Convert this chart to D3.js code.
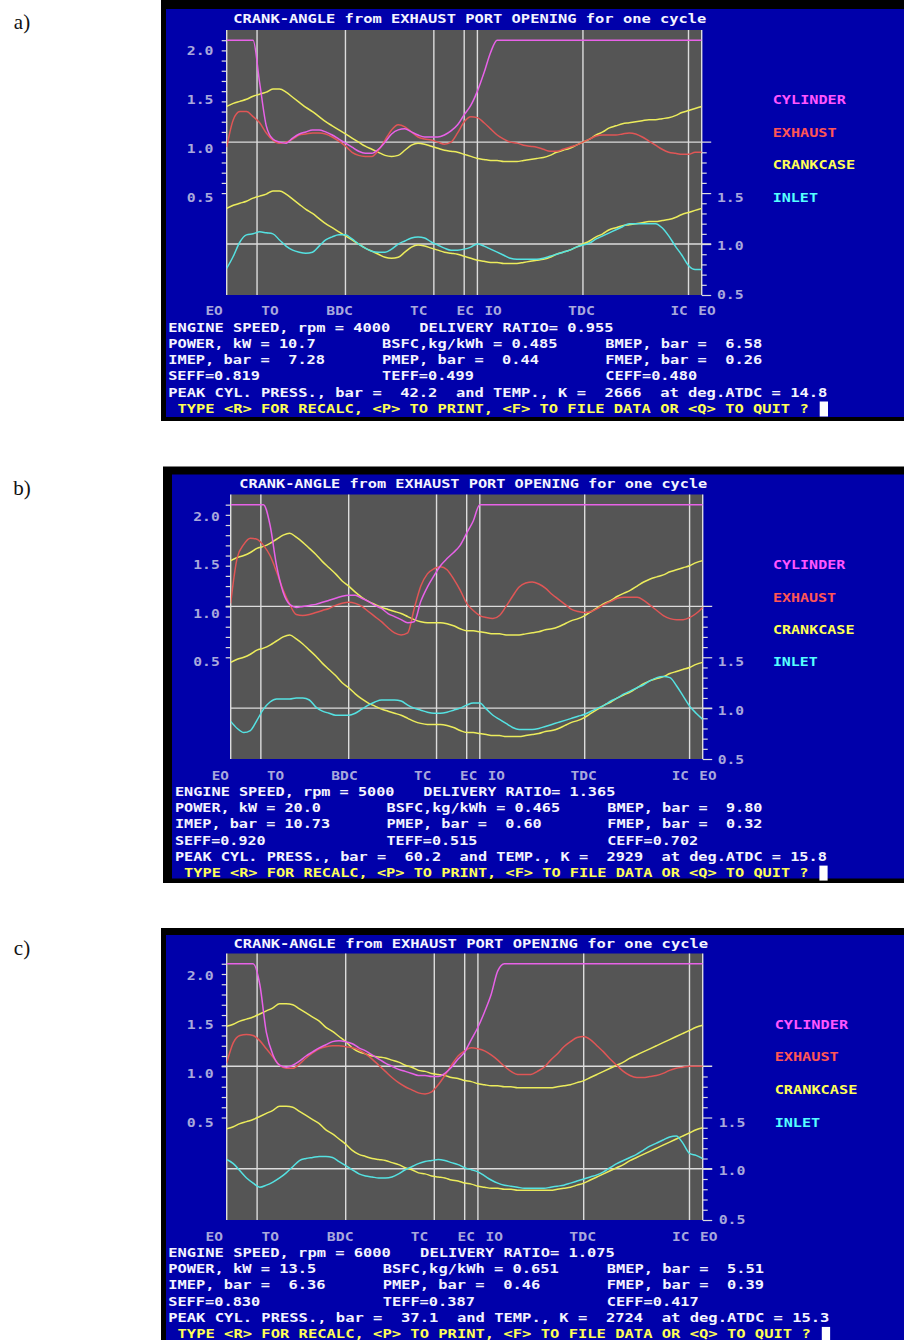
<!DOCTYPE html>
<html>
<head>
<meta charset="utf-8">
<style>
  html, body { margin: 0; padding: 0; background: #ffffff; }
  svg { display: block; }
  text.dos { font-family: "DejaVu Sans Mono", monospace; font-weight: bold; font-size: 13px; white-space: pre; }
</style>
</head>
<body>
<svg id="chart" width="904" height="1340"></svg>
<script src="https://cdn.jsdelivr.net/npm/d3@7/dist/d3.min.js"></script>
<script>
// Crank angle (deg) measured from exhaust port opening, sampled every 5 deg
const crankAngle = [
  0, 5, 10, 15, 20, 25, 30, 35, 40, 45,
  50, 55, 60, 65, 70, 75, 80, 85, 90, 95,
  100, 105, 110, 115, 120, 125, 130, 135, 140, 145,
  150, 155, 160, 165, 170, 175, 180, 185, 190, 195,
  200, 205, 210, 215, 220, 225, 230, 235, 240, 245,
  250, 255, 260, 265, 270, 275, 280, 285, 290, 295,
  300, 305, 310, 315, 320, 325, 330, 335, 340, 345,
  350, 355, 360
];

// Port / piston events along the cycle
const eventNames  = ["EO", "TO", "BDC", "TC", "EC", "IO", "TDC", "IC", "EO"];
const eventAngles = [0, 23, 90, 157, 180, 190, 270, 350, 360];

const seriesNames = ["CYLINDER", "EXHAUST", "CRANKCASE", "INLET"];
const runLabels = ["a)", "b)", "c)"];

// Pressure ratios, run a) 4000 rpm
const cylinderA = [
  2.0, 2.0, 2.0, 2.0, 2.0, 1.58, 1.16, 1.03, 1.0, 0.99,
  1.04, 1.08, 1.1, 1.12, 1.12, 1.1, 1.07, 1.03, 0.99, 0.95,
  0.91, 0.89, 0.89, 0.93, 1.0, 1.08, 1.12, 1.13, 1.1, 1.07,
  1.05, 1.05, 1.05, 1.07, 1.11, 1.17, 1.27, 1.36, 1.5, 1.68,
  1.88, 2.0, 2.0, 2.0, 2.0, 2.0, 2.0, 2.0, 2.0, 2.0,
  2.0, 2.0, 2.0, 2.0, 2.0, 2.0, 2.0, 2.0, 2.0, 2.0,
  2.0, 2.0, 2.0, 2.0, 2.0, 2.0, 2.0, 2.0, 2.0, 2.0,
  2.0, 2.0, 2.0
];
const exhaustA = [
  0.95, 1.22, 1.3, 1.3, 1.25, 1.19, 1.09, 1.02, 0.99, 1.0,
  1.03, 1.07, 1.08, 1.09, 1.09, 1.08, 1.05, 1.01, 0.96, 0.9,
  0.87, 0.86, 0.86, 0.92, 1.02, 1.12, 1.17, 1.15, 1.1, 1.05,
  1.03, 1.02, 1.0, 0.98, 1.0, 1.09, 1.2, 1.25, 1.24, 1.19,
  1.13, 1.07, 1.03, 1.0, 0.99, 0.97, 0.96, 0.95, 0.93, 0.91,
  0.91, 0.93, 0.95, 0.97, 1.0, 1.03, 1.06, 1.07, 1.07, 1.07,
  1.08, 1.09, 1.08, 1.05, 1.01, 0.97, 0.93, 0.9, 0.89, 0.88,
  0.88, 0.9, 0.9
];
const crankcaseA = [
  1.35, 1.38, 1.4, 1.42, 1.45, 1.47, 1.49, 1.52, 1.52, 1.49,
  1.44, 1.39, 1.34, 1.3, 1.25, 1.2, 1.16, 1.12, 1.08, 1.04,
  1.0, 0.96, 0.93, 0.9, 0.87, 0.86, 0.87, 0.92, 0.97, 0.99,
  0.98, 0.96, 0.94, 0.92, 0.91, 0.9, 0.88, 0.86, 0.84, 0.83,
  0.82, 0.82, 0.81, 0.81, 0.81, 0.82, 0.83, 0.84, 0.85, 0.87,
  0.9, 0.92, 0.94, 0.97, 1.0, 1.03, 1.07, 1.1, 1.14, 1.16,
  1.18, 1.19, 1.2, 1.21, 1.22, 1.22, 1.23, 1.24, 1.26, 1.29,
  1.31, 1.33, 1.35
];
const inletA = [
  0.76, 0.88, 1.02, 1.09, 1.1, 1.12, 1.11, 1.1, 1.04, 0.98,
  0.94, 0.92, 0.91, 0.92, 0.98, 1.04, 1.07, 1.09, 1.09, 1.05,
  1.0, 0.96, 0.93, 0.92, 0.92, 0.95, 1.0, 1.03, 1.06, 1.07,
  1.06, 1.02, 0.99, 0.96, 0.94, 0.94, 0.95, 0.97, 1.0, 0.98,
  0.95, 0.92, 0.89, 0.86, 0.85, 0.85, 0.85, 0.85, 0.86, 0.88,
  0.9, 0.92, 0.94, 0.97, 0.99, 1.01, 1.05, 1.08, 1.11, 1.14,
  1.17, 1.2, 1.2, 1.2, 1.2, 1.2, 1.16, 1.08, 0.98, 0.89,
  0.79, 0.75, 0.75
];

// Pressure ratios, run b) 5000 rpm
const cylinderB = [
  2.0, 2.0, 2.0, 2.0, 2.0, 2.0, 1.8, 1.4, 1.14, 1.02,
  0.99, 1.0, 1.01, 1.02, 1.04, 1.06, 1.08, 1.1, 1.11, 1.11,
  1.08, 1.05, 1.01, 0.98, 0.93, 0.9, 0.87, 0.84, 0.85, 1.05,
  1.19, 1.3, 1.4, 1.47, 1.53, 1.6, 1.72, 1.84, 2.0, 2.0,
  2.0, 2.0, 2.0, 2.0, 2.0, 2.0, 2.0, 2.0, 2.0, 2.0,
  2.0, 2.0, 2.0, 2.0, 2.0, 2.0, 2.0, 2.0, 2.0, 2.0,
  2.0, 2.0, 2.0, 2.0, 2.0, 2.0, 2.0, 2.0, 2.0, 2.0,
  2.0, 2.0, 2.0
];
const exhaustB = [
  1.03, 1.48, 1.61, 1.67, 1.66, 1.6, 1.5, 1.34, 1.16, 1.02,
  0.92, 0.91, 0.92, 0.94, 0.96, 0.98, 1.01, 1.03, 1.04, 1.03,
  1.0, 0.95, 0.9, 0.85, 0.79, 0.74, 0.72, 0.74, 0.98, 1.2,
  1.32, 1.37, 1.39, 1.36, 1.27, 1.16, 1.03, 0.96, 0.91, 0.89,
  0.88, 0.91, 1.0, 1.1, 1.19, 1.23, 1.24, 1.22, 1.18, 1.12,
  1.07, 1.02, 0.97, 0.95, 0.94, 0.95, 0.98, 1.02, 1.05, 1.08,
  1.09, 1.09, 1.09, 1.06, 1.01, 0.96, 0.91, 0.88, 0.87, 0.87,
  0.89, 0.93, 0.99
];
const crankcaseB = [
  1.45, 1.48, 1.5, 1.53, 1.57, 1.59, 1.62, 1.66, 1.7, 1.72,
  1.68, 1.63, 1.57, 1.51, 1.44, 1.38, 1.32, 1.25, 1.2, 1.14,
  1.09, 1.05, 1.02, 0.99, 0.97, 0.95, 0.93, 0.9, 0.87, 0.85,
  0.84, 0.84, 0.84, 0.83, 0.81, 0.78, 0.76, 0.76, 0.75, 0.74,
  0.73, 0.73, 0.72, 0.72, 0.72, 0.73, 0.74, 0.75, 0.77, 0.78,
  0.8, 0.83, 0.86, 0.88, 0.91, 0.95, 0.99, 1.03, 1.06, 1.1,
  1.13, 1.16, 1.2, 1.24, 1.27, 1.29, 1.31, 1.34, 1.36, 1.38,
  1.4, 1.43, 1.45
];
const inletB = [
  0.87, 0.8, 0.76, 0.78, 0.88, 0.99, 1.06, 1.09, 1.09, 1.09,
  1.1, 1.1, 1.08, 1.01, 0.97, 0.95, 0.93, 0.93, 0.93, 0.95,
  0.99, 1.03, 1.06, 1.08, 1.08, 1.08, 1.07, 1.03, 1.0, 0.98,
  0.96, 0.95, 0.95, 0.96, 0.98, 1.0, 1.03, 1.05, 1.05, 0.99,
  0.93, 0.89, 0.85, 0.81, 0.79, 0.79, 0.79, 0.8, 0.82, 0.84,
  0.86, 0.88, 0.9, 0.92, 0.94, 0.97, 1.0, 1.03, 1.07, 1.1,
  1.14, 1.17, 1.2, 1.23, 1.27, 1.3, 1.31, 1.3, 1.22, 1.12,
  1.02, 0.95, 0.89
];

// Pressure ratios, run c) 6000 rpm
const cylinderC = [
  2.0, 2.0, 2.0, 2.0, 2.0, 1.8, 1.33, 1.11, 1.01, 0.99,
  1.01, 1.05, 1.1, 1.14, 1.18, 1.21, 1.24, 1.25, 1.24, 1.22,
  1.18, 1.15, 1.11, 1.07, 1.03, 1.0, 0.97, 0.95, 0.93, 0.91,
  0.91, 0.9, 0.9, 0.93, 0.99, 1.07, 1.14, 1.26, 1.38, 1.53,
  1.7, 1.93, 2.0, 2.0, 2.0, 2.0, 2.0, 2.0, 2.0, 2.0,
  2.0, 2.0, 2.0, 2.0, 2.0, 2.0, 2.0, 2.0, 2.0, 2.0,
  2.0, 2.0, 2.0, 2.0, 2.0, 2.0, 2.0, 2.0, 2.0, 2.0,
  2.0, 2.0, 2.0
];
const exhaustC = [
  1.03, 1.23, 1.3, 1.31, 1.3, 1.25, 1.17, 1.09, 1.01, 0.98,
  0.98, 1.02, 1.08, 1.13, 1.17, 1.19, 1.2, 1.2, 1.19, 1.18,
  1.16, 1.12, 1.07, 1.01, 0.95, 0.89, 0.84, 0.8, 0.77, 0.74,
  0.73, 0.75, 0.82, 0.91, 1.01, 1.1, 1.15, 1.18, 1.17, 1.15,
  1.11, 1.06, 1.0, 0.95, 0.92, 0.92, 0.92, 0.95, 0.99, 1.06,
  1.12, 1.19, 1.24, 1.28, 1.29, 1.26, 1.2, 1.14, 1.07, 1.01,
  0.95, 0.91, 0.89, 0.89, 0.9, 0.91, 0.93, 0.96, 0.98, 0.99,
  1.0, 1.0, 1.0
];
const crankcaseC = [
  1.39, 1.41, 1.44, 1.46, 1.48, 1.51, 1.54, 1.57, 1.61, 1.61,
  1.6, 1.56, 1.52, 1.48, 1.44, 1.38, 1.34, 1.29, 1.24, 1.18,
  1.14, 1.12, 1.1, 1.09, 1.08, 1.06, 1.04, 1.01, 0.99, 0.96,
  0.95, 0.93, 0.92, 0.91, 0.89, 0.88, 0.86, 0.85, 0.83, 0.82,
  0.81, 0.81, 0.8, 0.8, 0.79, 0.79, 0.79, 0.79, 0.79, 0.79,
  0.8, 0.81, 0.82, 0.84, 0.86, 0.89, 0.92, 0.95, 0.98, 1.01,
  1.04, 1.08, 1.11, 1.14, 1.17, 1.2, 1.23, 1.26, 1.29, 1.32,
  1.35, 1.38, 1.4
];
const inletC = [
  1.09, 1.05, 0.98, 0.91, 0.86, 0.82, 0.84, 0.87, 0.91, 0.96,
  1.02, 1.08, 1.1, 1.11, 1.12, 1.12, 1.11, 1.07, 1.03, 0.99,
  0.95, 0.93, 0.92, 0.91, 0.91, 0.92, 0.95, 0.99, 1.02, 1.05,
  1.07, 1.08, 1.09, 1.08, 1.06, 1.04, 1.01, 0.99, 0.97, 0.93,
  0.89, 0.86, 0.84, 0.83, 0.82, 0.81, 0.81, 0.81, 0.81, 0.82,
  0.83, 0.84, 0.86, 0.88, 0.9, 0.92, 0.94, 0.97, 1.01, 1.05,
  1.08, 1.11, 1.14, 1.18, 1.22, 1.25, 1.28, 1.31, 1.32, 1.25,
  1.15, 1.13, 1.1
];

// Performance summary per run
const engineSpeed   = ["4000", "5000", "6000"];
const deliveryRatio = ["0.955", "1.365", "1.075"];
const powerKW       = ["10.7", "20.0", "13.5"];
const bsfc          = ["0.485", "0.465", "0.651"];
const bmep          = ["6.58", "9.80", "5.51"];
const imep          = ["7.28", "10.73", "6.36"];
const pmep          = ["0.44", "0.60", "0.46"];
const fmep          = ["0.26", "0.32", "0.39"];
const seff          = ["0.819", "0.920", "0.830"];
const teff          = ["0.499", "0.515", "0.387"];
const ceff          = ["0.480", "0.702", "0.417"];
const peakPressure  = ["42.2", "60.2", "37.1"];
const peakTemp      = ["2666", "2929", "2724"];
const peakAngle     = ["14.8", "15.8", "15.3"];

// Axis ticks
const leftTicks  = [0.5, 0.6, 0.7, 0.8, 0.9, 1.0, 1.1, 1.2, 1.3, 1.4, 1.5, 1.6, 1.7, 1.8, 1.9, 2.0];
const rightTicks = [0.5, 0.6, 0.7, 0.8, 0.9, 1.0, 1.1, 1.2, 1.3, 1.4, 1.5, 1.6, 1.7, 1.8, 1.9];
const leftTickLabels  = [0.5, 1.0, 1.5, 2.0];
const rightTickLabels = [0.5, 1.0, 1.5];

const runSeries = [
  [cylinderA, exhaustA, crankcaseA, inletA],
  [cylinderB, exhaustB, crankcaseB, inletB],
  [cylinderC, exhaustC, crankcaseC, inletC]
];

// ---- screen layout (text grid + plot box for each screenshot) ----
const layouts = [
  { tag: 22,  frame: [161, 0, 904, 421],   screen: [166, 9, 904, 417],
    col0: 168.2, cw: 9.30, row0: 18.0,  rh: 16.25, plot: { L: 226.7, R: 701.7, T: 30.0,  B: 295.0 } },
  { tag: 488, frame: [163, 466.5, 904, 883], screen: [172, 474.5, 904, 878.5],
    col0: 174.9, cw: 9.20, row0: 483.3, rh: 16.20, plot: { L: 230.7, R: 702.7, T: 494.5, B: 759.0 } },
  { tag: 948, frame: [161, 928, 904, 1340], screen: [166, 935, 904, 1340],
    col0: 168.2, cw: 9.33, row0: 942.7, rh: 16.28, plot: { L: 226.7, R: 702.7, T: 953.5, B: 1220.0 } }
];
const eventLabelCol = [4, 10, 17, 26, 31, 34, 43, 54, 57];
const legendRows = [5, 7, 9, 11];

const C = {
  blue: "#0000aa", gray: "#555555", frame: "#000000",
  grid: "#dcdcdc", axisText: "#a8a8dc", text: "#f4f4ff", prompt: "#ffff55",
  legend: ["#ff55ff", "#ff5555", "#ffff55", "#55ffff"],
  line:   ["#e862e8", "#e05656", "#ecec5c", "#55e2e2"]
};

const svg = d3.select("#chart");

function drawRun(i) {
  const lay = layouts[i];
  const P = lay.plot;
  const g = svg.append("g");

  // run tag a) b) c)
  svg.append("text")
    .attr("x", 22).attr("y", lay.tag + 7)
    .attr("text-anchor", "middle")
    .attr("font-family", "Liberation Serif, serif")
    .attr("font-size", 21)
    .attr("fill", "#111")
    .text(runLabels[i]);

  // screen frame
  g.append("rect").attr("x", lay.frame[0]).attr("y", lay.frame[1])
    .attr("width", lay.frame[2] - lay.frame[0]).attr("height", lay.frame[3] - lay.frame[1])
    .attr("fill", C.frame);
  g.append("rect").attr("x", lay.screen[0]).attr("y", lay.screen[1])
    .attr("width", lay.screen[2] - lay.screen[0]).attr("height", lay.screen[3] - lay.screen[1])
    .attr("fill", C.blue);

  // text helper on the character grid
  const put = (col, row, str, color) => {
    const t = g.append("text").attr("class", "dos")
      .attr("xml:space", "preserve")
      .attr("x", lay.col0 + col * lay.cw)
      .attr("y", lay.row0 + row * lay.rh + 4.8)
      .attr("fill", color)
      .text(str);
    t.attr("textLength", str.length * lay.cw - 1.2).attr("lengthAdjust", "spacingAndGlyphs");
    return t;
  };
  const rowOf = y => Math.ceil((y - lay.row0) / lay.rh - 0.2);

  // scales
  const x = d3.scaleLinear().domain([0, 360]).range([P.L, P.R]);
  const yL = d3.scaleLinear().domain([-0.5, 2.1]).range([P.B, P.T]);
  const yR = d3.scaleLinear().domain([0.5, 3.1]).range([P.B, P.T]);

  // plot background
  g.append("rect").attr("x", P.L).attr("y", P.T)
    .attr("width", P.R - P.L).attr("height", P.B - P.T).attr("fill", C.gray);

  // event lines
  g.append("g").selectAll("line").data(eventAngles).join("line")
    .attr("x1", d => x(d)).attr("x2", d => x(d))
    .attr("y1", P.T).attr("y2", P.B)
    .attr("stroke", C.grid).attr("stroke-width", 1.4);

  // left axis ticks
  const axL = g.append("g").attr("transform", `translate(${P.L},0)`)
    .call(d3.axisLeft(yL).tickValues(leftTicks).tickSize(5).tickFormat(""));
  axL.select(".domain").remove();
  axL.selectAll("line").attr("stroke", C.grid).attr("stroke-width", 1.2);

  // right axis ticks (majors longer)
  const axR = g.append("g").attr("transform", `translate(${P.R},0)`)
    .call(d3.axisRight(yR).tickValues(rightTicks).tickSize(5).tickFormat(""));
  axR.select(".domain").remove();
  axR.selectAll("line").attr("stroke", C.grid).attr("stroke-width", 1.2)
    .attr("x2", d => (Math.abs(d * 2 - Math.round(d * 2)) < 1e-6 ? 9.5 : 5));

  // reference lines at 1.0 on both scales
  g.append("line").attr("x1", P.L - 5).attr("x2", P.R + 9.5)
    .attr("y1", yL(1)).attr("y2", yL(1)).attr("stroke", C.grid).attr("stroke-width", 1.4);
  g.append("line").attr("x1", P.L).attr("x2", P.R + 9.5)
    .attr("y1", yR(1)).attr("y2", yR(1)).attr("stroke", C.grid).attr("stroke-width", 1.4);

  // curves
  const clipId = "clip" + i;
  g.append("clipPath").attr("id", clipId).append("rect")
    .attr("x", P.L).attr("y", P.T).attr("width", P.R - P.L).attr("height", P.B - P.T);
  const curves = g.append("g").attr("clip-path", `url(#${clipId})`);
  const mk = ys => d3.line().x((d, k) => x(crankAngle[k])).y(d => ys(d)).curve(d3.curveMonotoneX);
  const [cyl, exh, cc, inl] = runSeries[i];
  const draw = (data, ys, color) => curves.append("path").datum(data)
    .attr("d", mk(ys)).attr("fill", "none").attr("stroke", color)
    .attr("stroke-width", 1.5).attr("stroke-linejoin", "round");
  draw(cc, yR, C.line[2]);
  draw(inl, yR, C.line[3]);
  draw(cc, yL, C.line[2]);
  draw(exh, yL, C.line[1]);
  draw(cyl, yL, C.line[0]);

  // axis labels snapped to text rows
  leftTickLabels.forEach(v => put(2, rowOf(yL(v)), v.toFixed(1), C.axisText));
  rightTickLabels.forEach(v => put(59, rowOf(yR(v)), v.toFixed(1), C.axisText));
  eventNames.forEach((n, k) => put(eventLabelCol[k], 18, n, C.axisText));

  // title and legend
  put(7, 0, "CRANK-ANGLE from EXHAUST PORT OPENING for one cycle", C.text);
  seriesNames.forEach((n, k) => put(65, legendRows[k], n, C.legend[k]));

  // summary block
  const r5 = s => s.padStart(5, " ");
  put(0, 19, `ENGINE SPEED, rpm = ${engineSpeed[i]}`, C.text);
  put(27, 19, `DELIVERY RATIO= ${deliveryRatio[i]}`, C.text);
  put(0, 20, `POWER, kW = ${powerKW[i]}`, C.text);
  put(23, 20, `BSFC,kg/kWh = ${bsfc[i]}`, C.text);
  put(47, 20, `BMEP, bar = ${r5(bmep[i])}`, C.text);
  put(0, 21, `IMEP, bar = ${r5(imep[i])}`, C.text);
  put(23, 21, `PMEP, bar = ${r5(pmep[i])}`, C.text);
  put(47, 21, `FMEP, bar = ${r5(fmep[i])}`, C.text);
  put(0, 22, `SEFF=${seff[i]}`, C.text);
  put(23, 22, `TEFF=${teff[i]}`, C.text);
  put(47, 22, `CEFF=${ceff[i]}`, C.text);
  put(0, 23, `PEAK CYL. PRESS., bar =  ${peakPressure[i]}  and TEMP., K =  ${peakTemp[i]}  at deg.ATDC = ${peakAngle[i]}`, C.text);
  put(1, 24, "TYPE <R> FOR RECALC, <P> TO PRINT, <F> TO FILE DATA OR <Q> TO QUIT ?", C.prompt);
  // cursor block
  g.append("rect")
    .attr("x", lay.col0 + 70 * lay.cw + 0.5).attr("y", lay.row0 + 24 * lay.rh - 6.5)
    .attr("width", lay.cw - 1).attr("height", 15).attr("fill", "#ffffff");
}

[0, 1, 2].forEach(drawRun);
</script>
</body>
</html>
